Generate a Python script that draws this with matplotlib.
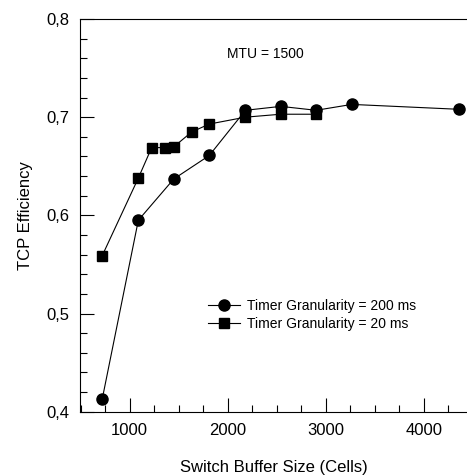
import matplotlib
matplotlib.use("Agg")
import matplotlib.pyplot as plt
from matplotlib.ticker import MultipleLocator, FuncFormatter

plt.rcParams['font.family'] = ['Liberation Sans', 'DejaVu Sans']

# Datos
buf_200 = [720, 1088, 1449, 1812, 2180, 2541, 2901, 3265, 4360]
eff_200 = [0.413, 0.595, 0.637, 0.661, 0.707, 0.711, 0.707, 0.713, 0.708]

buf_20 = [720, 1088, 1224, 1360, 1452, 1633, 1812, 2180, 2541, 2901]
eff_20 = [0.559, 0.638, 0.669, 0.669, 0.670, 0.685, 0.693, 0.700, 0.703, 0.703]

fig = plt.figure(figsize=(4.67, 4.75), dpi=100)
ax = fig.add_axes([0.1713, 0.1333, 0.8287, 0.8267])

ax.plot(buf_200, eff_200, color='black', lw=0.8, marker='o', markersize=8,
        label='Timer Granularity = 200 ms')
ax.plot(buf_20, eff_20, color='black', lw=0.8, marker='s', markersize=7.5,
        label='Timer Granularity = 20 ms')

ax.set_xlim(493, 4440)
ax.set_ylim(0.4, 0.8)

ax.xaxis.set_major_locator(MultipleLocator(1000))
ax.xaxis.set_minor_locator(MultipleLocator(250))
ax.yaxis.set_major_locator(MultipleLocator(0.1))
ax.yaxis.set_minor_locator(MultipleLocator(0.02))
ax.yaxis.set_major_formatter(FuncFormatter(lambda v, p: f"{v:.1f}".replace('.', ',')))

ax.tick_params(which='major', direction='in', length=10, width=0.8, labelsize=12, pad=8)
ax.tick_params(which='minor', direction='in', length=5, width=0.8)
ax.tick_params(top=False, right=False, which='both')
ax.spines['right'].set_visible(False)
for s in ['left', 'bottom', 'top']:
    ax.spines[s].set_linewidth(0.8)

ax.set_xlabel("Switch Buffer Size (Cells)", fontsize=12, labelpad=16)
ax.set_ylabel("TCP Efficiency", fontsize=12, labelpad=9)

ax.text(265 / 467, 1 - 54 / 475, "MTU = 1500", transform=fig.transFigure,
        ha='center', va='center', fontsize=10)

ax.legend(loc='center left', bbox_to_anchor=(201 / 467, 1 - 315 / 475),
          bbox_transform=fig.transFigure, frameon=False, fontsize=10,
          handlelength=2.3, handletextpad=0.5, labelspacing=0.3, borderpad=0)

fig.savefig("out.png", dpi=100)
